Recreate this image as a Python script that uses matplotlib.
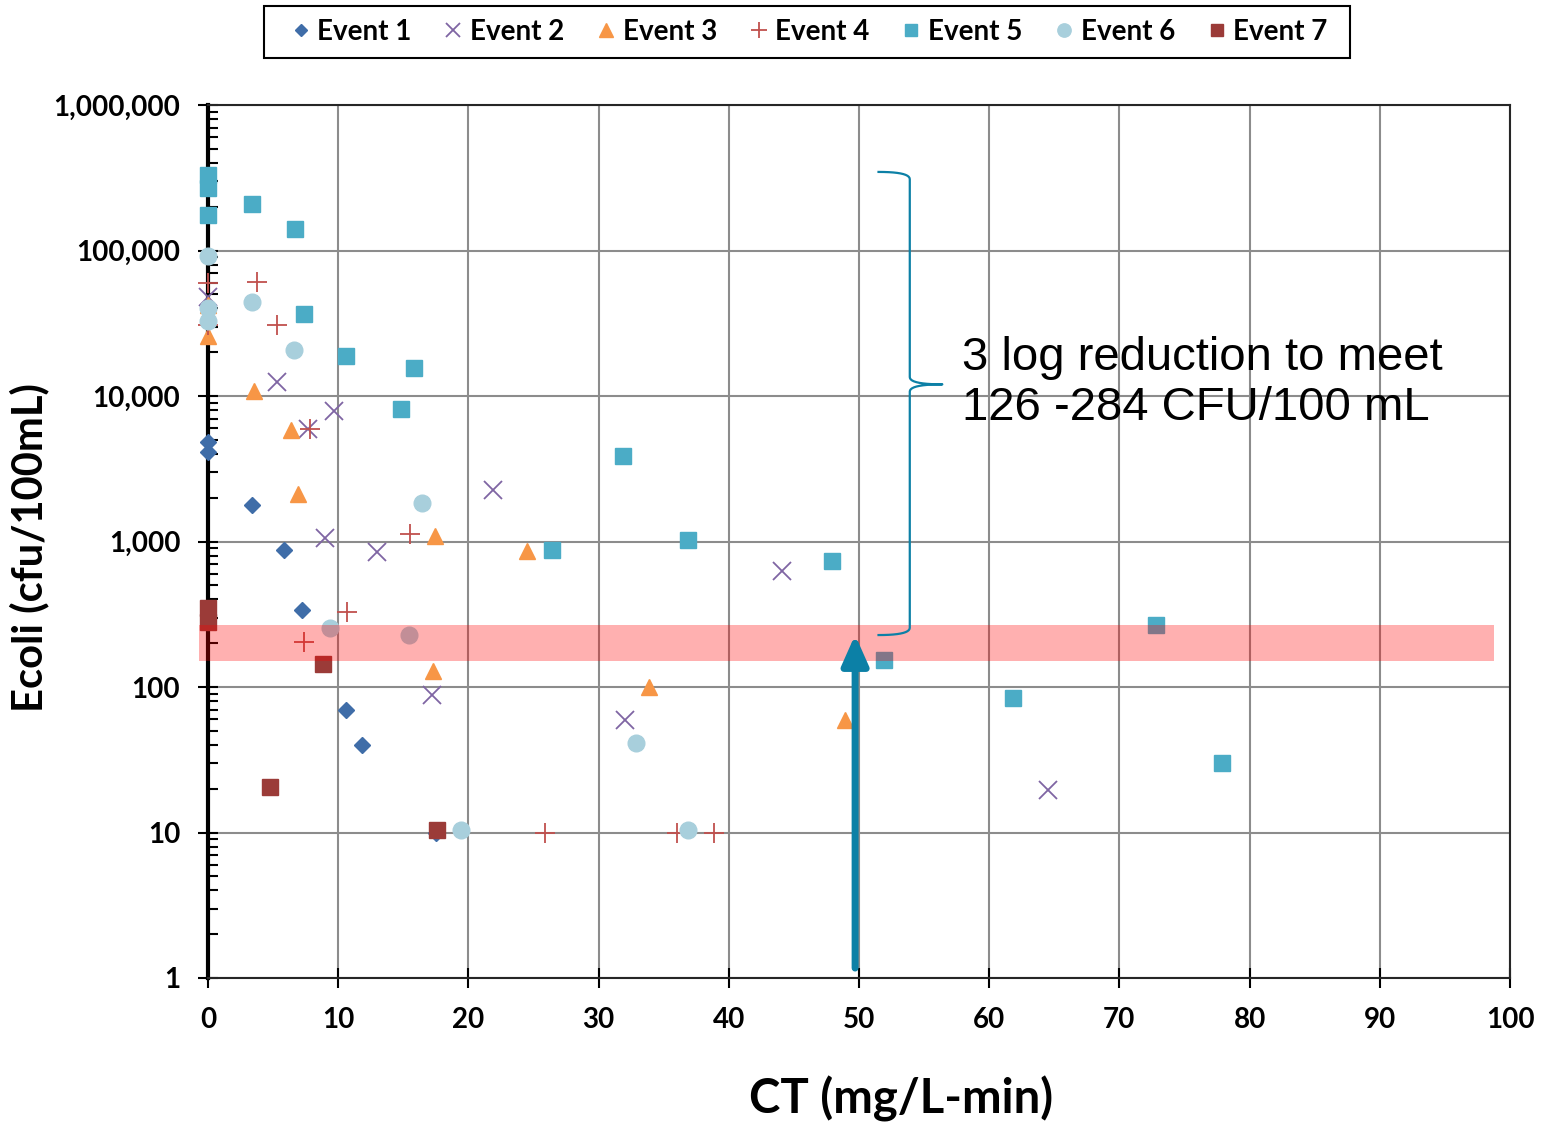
import numpy as np
import matplotlib
matplotlib.use('Agg')
import matplotlib.pyplot as plt
from matplotlib.patches import Rectangle
from matplotlib.ticker import FixedLocator, LogLocator, NullFormatter, FuncFormatter

# ------------------------------------------------------------------ data
ev1_ct = [0, 0, 3.4, 5.8, 7.2, 10.6, 11.8, 17.5]
ev1_ec = [4830, 4100, 1780, 875, 340, 70, 40, 10]

ev2_ct = [0, 5.3, 9.7, 7.7, 9.0, 13.0, 21.9, 17.2, 32.0, 44.1, 64.5]
ev2_ec = [48000, 12500, 7900, 5900, 1050, 850, 2250, 88, 59, 630, 19.6]

ev3_ct = [0, 0, 3.5, 6.4, 6.9, 17.4, 24.5, 17.3, 33.9, 48.9]
ev3_ec = [26000, 42000, 10800, 5850, 2130, 1090, 860, 129, 100, 59]

ev4_ct = [0, 0, 3.8, 5.3, 7.8, 15.5, 10.7, 7.4, 25.9, 36.0, 38.9]
ev4_ec = [60000, 31000, 60500, 30800, 5900, 1120, 330, 203, 10, 10, 10]

ev5_ct = [0, 0, 0, 3.4, 6.7, 7.4, 10.6, 15.8, 14.8, 31.9, 26.4, 36.9, 47.9,
          51.9, 72.8, 61.8, 77.9]
ev5_ec = [330000, 270000, 175000, 210000, 141000, 36500, 18800, 15500, 8200,
          3900, 880, 1020, 735, 154, 268, 84, 30]

ev6_ct = [0, 0, 0, 3.4, 6.6, 16.4, 9.4, 15.4, 32.9, 19.4, 36.9]
ev6_ec = [92000, 40000, 33000, 44000, 20700, 1830, 254, 228, 41, 10.4, 10.4]

ev7_ct = [0, 0, 8.8, 4.8, 17.6]
ev7_ec = [350, 280, 144, 20.6, 10.4]

events = ['Event 1', 'Event 2', 'Event 3', 'Event 4', 'Event 5', 'Event 6', 'Event 7']

x_ticks = np.arange(0, 101, 10)
y_ticks = [1, 10, 100, 1000, 10000, 100000, 1000000]

# target band (cfu/100mL) and annotation geometry
band_lo, band_hi = 150, 267
band_x = [-0.7, 98.8]
arrow_x, arrow_y0, arrow_y1 = 49.7, 1.17, 228
brace_x = (51.5, 53.9, 56.4)            # ends, spine, tip
brace_logy = (5.54, 4.08, 2.357)        # top, tip, bottom (log10)
note = '3 log reduction to meet\n126 -284 CFU/100 mL'

teal = '#0C80A6'
styles = [
    dict(marker='D', color='#3F6DA8', ms=8),
    dict(marker='x', color='#7F65A3', ms=13, mew=1.3),
    dict(marker='^', color='#F79646', ms=12),
    dict(marker='+', color='#C0504D', ms=14, mew=1.3),
    dict(marker='s', color='#4BACC6', ms=11.5),
    dict(marker='o', color='#A8CFDC', ms=12),
    dict(marker='s', color='#9B3B38', ms=11.5),
]
series = [(ev1_ct, ev1_ec), (ev2_ct, ev2_ec), (ev3_ct, ev3_ec), (ev4_ct, ev4_ec),
          (ev5_ct, ev5_ec), (ev6_ct, ev6_ec), (ev7_ct, ev7_ec)]

# ------------------------------------------------------------------ plot
fig = plt.figure(figsize=(15.44, 11.30), dpi=100)
ax = fig.add_axes([208 / 1544, 1 - 978 / 1130, 1302 / 1544, 873 / 1130])

for name, (xs, ys), st in zip(events, series, styles):
    ax.plot(xs, ys, ls='none', label=name, clip_on=False, zorder=3,
            mec=st['color'], mfc=st['color'], **{k: v for k, v in st.items() if k != 'color'})

ax.set_yscale('log')
ax.set_xlim(0, 100)
ax.set_ylim(1, 1e6)

# pink target band, drawn over the markers
ax.fill_between(band_x, band_lo, band_hi, color='red', alpha=0.31, lw=0,
                zorder=4, clip_on=False)

# arrow
ax.annotate('', xy=(arrow_x, arrow_y1), xytext=(arrow_x, arrow_y0),
            arrowprops=dict(arrowstyle='-|>,head_length=0.9,head_width=0.4',
                            color=teal, lw=5, mutation_scale=20,
                            shrinkA=0, shrinkB=0), zorder=5)


# curly brace (built in x / log10(y) space)
def _quad(p0, c, p1, n=12):
    t = np.linspace(0, 1, n)[:, None]
    return (1 - t) ** 2 * np.array(p0) + 2 * (1 - t) * t * np.array(c) + t ** 2 * np.array(p1)


x0, x1, x2 = brace_x
yt, ym, yb = brace_logy
r = 0.05
pts = np.vstack([
    _quad((x0, yt), (x1, yt), (x1, yt - r)),
    _quad((x1, ym + r), (x1, ym), (x2, ym)),
    _quad((x2, ym), (x1, ym), (x1, ym - r)),
    _quad((x1, yb + r), (x1, yb), (x0, yb)),
])
ax.plot(pts[:, 0], 10 ** pts[:, 1], color=teal, lw=1.6, zorder=5, clip_on=False)

ax.text(57.9, 12300, note, fontsize=34, family='Liberation Sans',
        ha='left', va='center', linespacing=1.2, zorder=6)

# axes styling
ax.xaxis.set_major_locator(FixedLocator(x_ticks))
ax.yaxis.set_major_locator(FixedLocator(y_ticks))
ax.yaxis.set_minor_locator(LogLocator(base=10, subs=np.arange(2, 10), numticks=10))
ax.yaxis.set_minor_formatter(NullFormatter())
ax.yaxis.set_major_formatter(FuncFormatter(lambda v, _: f'{v:,.0f}'))

ax.grid(True, which='major', color='#8C8C8C', lw=1.5, zorder=0)
ax.set_axisbelow(True)
for side in ['top', 'right', 'bottom']:
    ax.spines[side].set_linewidth(1.5)
    ax.spines[side].set_color('#262626')
ax.spines['left'].set_linewidth(3)
ax.spines['left'].set_color('black')

tick_font = dict(family='Lato', weight='bold', size=20)
ax.tick_params(axis='y', which='major', direction='inout', length=14, width=1.5, pad=13)
ax.tick_params(axis='y', which='minor', direction='in', length=7, width=1.5)
ax.tick_params(axis='x', which='major', direction='inout', length=14, width=1.5, pad=14)
for lab in ax.get_xticklabels() + ax.get_yticklabels():
    lab.set_fontproperties(tick_font)

ax.set_xlabel('CT (mg/L-min)', family='Lato', weight='bold', fontsize=34)
ax.xaxis.set_label_coords((901 - 208) / 1302, -0.112)
ax.set_ylabel('Ecoli (cfu/100mL)', family='Lato', weight='bold', fontsize=30)
ax.yaxis.set_label_coords(-0.122, 0.4925)

# legend, with its frame drawn separately for the wider side padding
leg = fig.legend(loc='center', bbox_to_anchor=(810 / 1544, 1 - 32 / 1130), ncol=7,
                 prop=dict(family='Lato', weight='bold', size=20),
                 handlelength=0.6, handletextpad=0.3, columnspacing=1.2,
                 markerscale=0.8, frameon=False)
fig.patches.append(Rectangle((264 / 1544, 1 - 58 / 1130), 1086 / 1544, 52 / 1130,
                             transform=fig.transFigure, fill=False,
                             edgecolor='black', lw=1.5))

fig.savefig('out.png', dpi=100)
